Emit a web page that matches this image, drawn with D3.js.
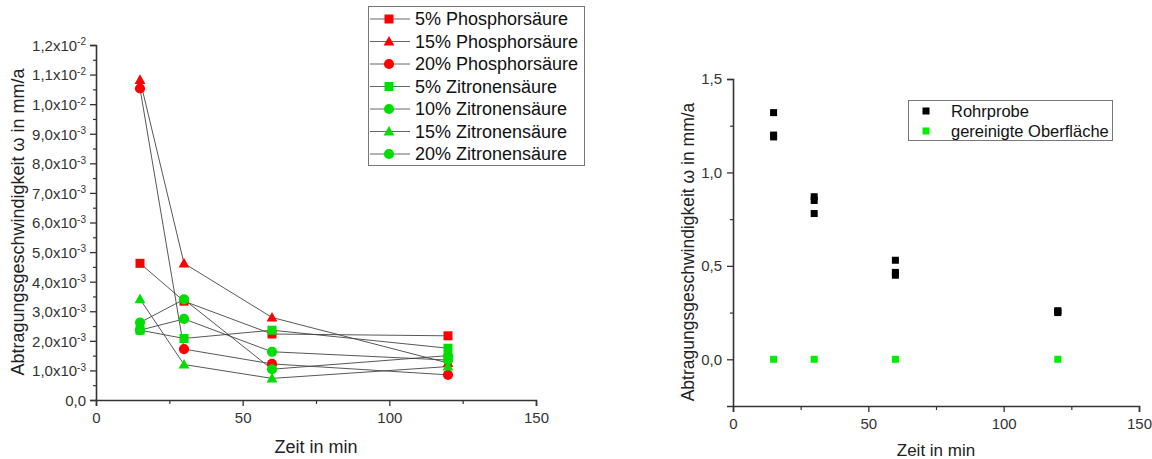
<!DOCTYPE html>
<html>
<head>
<meta charset="utf-8">
<script src="https://cdn.jsdelivr.net/npm/d3@7"></script>
<style>
  html, body { margin: 0; padding: 0; background: #fff; }
  svg text { font-family: "Liberation Sans", Arial, sans-serif; }
</style>
</head>
<body>
<svg id="chart" width="1152" height="459"></svg>
<script>
// Measurement times (min)
const times = [15, 30, 60, 120];

// Removal rate (mm/a) per acid solution
const phos5  = [4.62e-3, 3.34e-3, 2.23e-3, 2.17e-3];
const phos15 = [10.82e-3, 4.62e-3, 2.79e-3, 1.25e-3];
const phos20 = [10.53e-3, 1.72e-3, 1.22e-3, 0.85e-3];
const zit5   = [2.36e-3, 2.08e-3, 2.36e-3, 1.75e-3];
const zit10  = [2.62e-3, 3.40e-3, 1.04e-3, 1.50e-3];
const zit15  = [3.41e-3, 1.20e-3, 0.73e-3, 1.13e-3];
const zit20  = [2.36e-3, 2.74e-3, 1.63e-3, 1.35e-3];

const acidNames = ["5% Phosphorsäure", "15% Phosphorsäure", "20% Phosphorsäure",
                   "5% Zitronensäure", "10% Zitronensäure", "15% Zitronensäure", "20% Zitronensäure"];
const acidValues = [phos5, phos15, phos20, zit5, zit10, zit15, zit20];
const acidColors = ["#ff0000", "#ff0000", "#ff0000", "#00dd00", "#00dd00", "#00dd00", "#00dd00"];
const acidShapes = ["square", "triangle", "circle", "square", "circle", "triangle", "circle"];

// Pipe sample vs. cleaned surface (mm/a)
const pipeTimes  = [15, 15, 15, 30, 30, 30, 60, 60, 60, 120, 120, 120];
const pipeValues = [1.32, 1.20, 1.19, 0.87, 0.85, 0.78, 0.53, 0.465, 0.45, 0.26, 0.255, 0.25];
const cleanTimes  = [15, 30, 60, 120];
const cleanValues = [0, 0, 0, 0];

const leftYTicks  = [0, 1e-3, 2e-3, 3e-3, 4e-3, 5e-3, 6e-3, 7e-3, 8e-3, 9e-3, 1.0e-2, 1.1e-2, 1.2e-2];
const rightYTicks = [0, 0.5, 1.0, 1.5];
const xTicks = [0, 50, 100, 150];

const yTitle = "Abtragungsgeschwindigkeit ω in mm/a";
const xTitle = "Zeit in min";

const svg = d3.select("#chart");
const axisColor = "#333";
const textColor = "#333";

function drawSymbol(g, shape, x, y, color, size) {
  if (shape === "square") {
    g.append("rect").attr("x", x - size / 2).attr("y", y - size / 2)
      .attr("width", size).attr("height", size).attr("fill", color);
  } else if (shape === "circle") {
    g.append("circle").attr("cx", x).attr("cy", y).attr("r", size / 2 + 0.6).attr("fill", color);
  } else {
    const h = size * 1.0, w = size * 1.2;
    g.append("path")
      .attr("d", `M${x},${y - h * 0.62}L${x + w / 2},${y + h * 0.45}L${x - w / 2},${y + h * 0.45}Z`)
      .attr("fill", color);
  }
}

function styleAxis(g) {
  g.selectAll(".domain").attr("stroke", axisColor).attr("stroke-width", 1.6);
  g.selectAll(".tick line").attr("stroke", axisColor).attr("stroke-width", 1.3);
  g.selectAll(".tick text").attr("fill", textColor).style("font-size", "15px")
    .style("font-family", "'Liberation Sans', Arial, sans-serif");
}

function minorAxis(g, axis) {
  g.call(axis);
  g.select(".domain").remove();
  g.selectAll(".tick line").attr("stroke", axisColor).attr("stroke-width", 1.2);
}

function commaFmt(v) { return v.toFixed(1).replace(".", ","); }

// ---------- Left panel ----------
const L = { x0: 96, x1: 536, y0: 400, y1: 45 };
const xL = d3.scaleLinear().domain([0, 150]).range([L.x0, L.x1]);
const yL = d3.scaleLinear().domain([0, 0.012]).range([L.y0, L.y1]);

const gL = svg.append("g");

// minor ticks
minorAxis(gL.append("g").attr("transform", `translate(0,${L.y0})`),
  d3.axisBottom(xL).tickValues([25, 75, 125]).tickSize(4).tickFormat(""));
minorAxis(gL.append("g").attr("transform", `translate(${L.x0},0)`),
  d3.axisLeft(yL).tickValues(d3.range(12).map(i => (i + 0.5) * 1e-3)).tickSize(3).tickFormat(""));

const axLX = gL.append("g").attr("transform", `translate(0,${L.y0})`)
  .call(d3.axisBottom(xL).tickValues(xTicks).tickSize(6).tickPadding(6).tickFormat(d => d));
styleAxis(axLX);

const axLY = gL.append("g").attr("transform", `translate(${L.x0},0)`)
  .call(d3.axisLeft(yL).tickValues(leftYTicks).tickSize(6).tickPadding(5).tickFormat(""));
styleAxis(axLY);
axLY.selectAll(".tick").each(function (d) {
  const t = d3.select(this).append("text")
    .attr("x", -10).attr("dy", "0.36em").attr("text-anchor", "end")
    .attr("fill", textColor).style("font-size", "15px");
  if (d === 0) {
    t.text("0,0");
  } else {
    const e = Math.floor(Math.log10(d) + 1e-9);
    const m = d / Math.pow(10, e);
    t.append("tspan").text(commaFmt(m) + "x10");
    t.append("tspan").attr("dy", "-0.55em").style("font-size", "10px").text(String(e));
  }
});

// series lines
const lineL = d3.line().x((d, i) => xL(times[i])).y(d => yL(d));
acidValues.forEach(vals => {
  gL.append("path").datum(vals).attr("d", lineL)
    .attr("fill", "none").attr("stroke", "#444").attr("stroke-width", 0.9);
});
// series markers
acidValues.forEach((vals, s) => {
  vals.forEach((v, i) => drawSymbol(gL, acidShapes[s], xL(times[i]), yL(v), acidColors[s], 9));
});

// axis titles
gL.append("text").attr("x", 316).attr("y", 453).attr("text-anchor", "middle")
  .attr("fill", "#222").style("font-size", "18px").text(xTitle);
gL.append("text").attr("transform", "translate(24,222) rotate(-90)").attr("text-anchor", "middle")
  .attr("fill", "#222").style("font-size", "18px").text(yTitle);

// legend
const lgL = gL.append("g");
lgL.append("rect").attr("x", 368.5).attr("y", 6.5).attr("width", 216).attr("height", 159)
  .attr("fill", "#fff").attr("stroke", "#777").attr("stroke-width", 1);
acidNames.forEach((name, s) => {
  const cy = 19 + s * 22.5;
  lgL.append("line").attr("x1", 370).attr("x2", 410).attr("y1", cy).attr("y2", cy)
    .attr("stroke", "#555").attr("stroke-width", 0.9);
  drawSymbol(lgL, acidShapes[s], 389, cy, acidColors[s], 9);
  lgL.append("text").attr("x", 415).attr("y", cy).attr("dy", "0.36em")
    .attr("fill", "#111").style("font-size", "18px").text(name);
});

// ---------- Right panel ----------
const R = { x0: 733, x1: 1139, y0: 406, y1: 79 };
const xR = d3.scaleLinear().domain([0, 150]).range([R.x0, R.x1]);
const yR = d3.scaleLinear().domain([-0.25, 1.5]).range([R.y0, R.y1]);

const gR = svg.append("g");
minorAxis(gR.append("g").attr("transform", `translate(0,${R.y0})`),
  d3.axisBottom(xR).tickValues([25, 75, 125]).tickSize(4).tickFormat(""));
minorAxis(gR.append("g").attr("transform", `translate(${R.x0},0)`),
  d3.axisLeft(yR).tickValues([0.25, 0.75, 1.25]).tickSize(3).tickFormat(""));

const axRX = gR.append("g").attr("transform", `translate(0,${R.y0})`)
  .call(d3.axisBottom(xR).tickValues(xTicks).tickSize(6).tickPadding(6).tickFormat(d => d));
styleAxis(axRX);
const axRY = gR.append("g").attr("transform", `translate(${R.x0},0)`)
  .call(d3.axisLeft(yR).tickValues(rightYTicks).tickSize(6).tickPadding(5).tickFormat(commaFmt));
styleAxis(axRY);

pipeValues.forEach((v, i) => drawSymbol(gR, "square", xR(pipeTimes[i]), yR(v), "#000", 7));
cleanValues.forEach((v, i) => drawSymbol(gR, "square", xR(cleanTimes[i]), yR(v), "#00ee00", 7));

gR.append("text").attr("x", 936).attr("y", 456).attr("text-anchor", "middle")
  .attr("fill", "#222").style("font-size", "17px").text(xTitle);
gR.append("text").attr("transform", "translate(694,252) rotate(-90)").attr("text-anchor", "middle")
  .attr("fill", "#222").style("font-size", "17.5px").text(yTitle);

const lgR = gR.append("g");
lgR.append("rect").attr("x", 908.5).attr("y", 100.5).attr("width", 204).attr("height", 40)
  .attr("fill", "#fff").attr("stroke", "#777").attr("stroke-width", 1);
[["Rohrprobe", "#000"], ["gereinigte Oberfläche", "#00ee00"]].forEach(([name, col], i) => {
  const cy = 111 + i * 20;
  drawSymbol(lgR, "square", 926, cy, col, 7);
  lgR.append("text").attr("x", 951).attr("y", cy).attr("dy", "0.36em")
    .attr("fill", "#111").style("font-size", "16.5px").text(name);
});
</script>
</body>
</html>
